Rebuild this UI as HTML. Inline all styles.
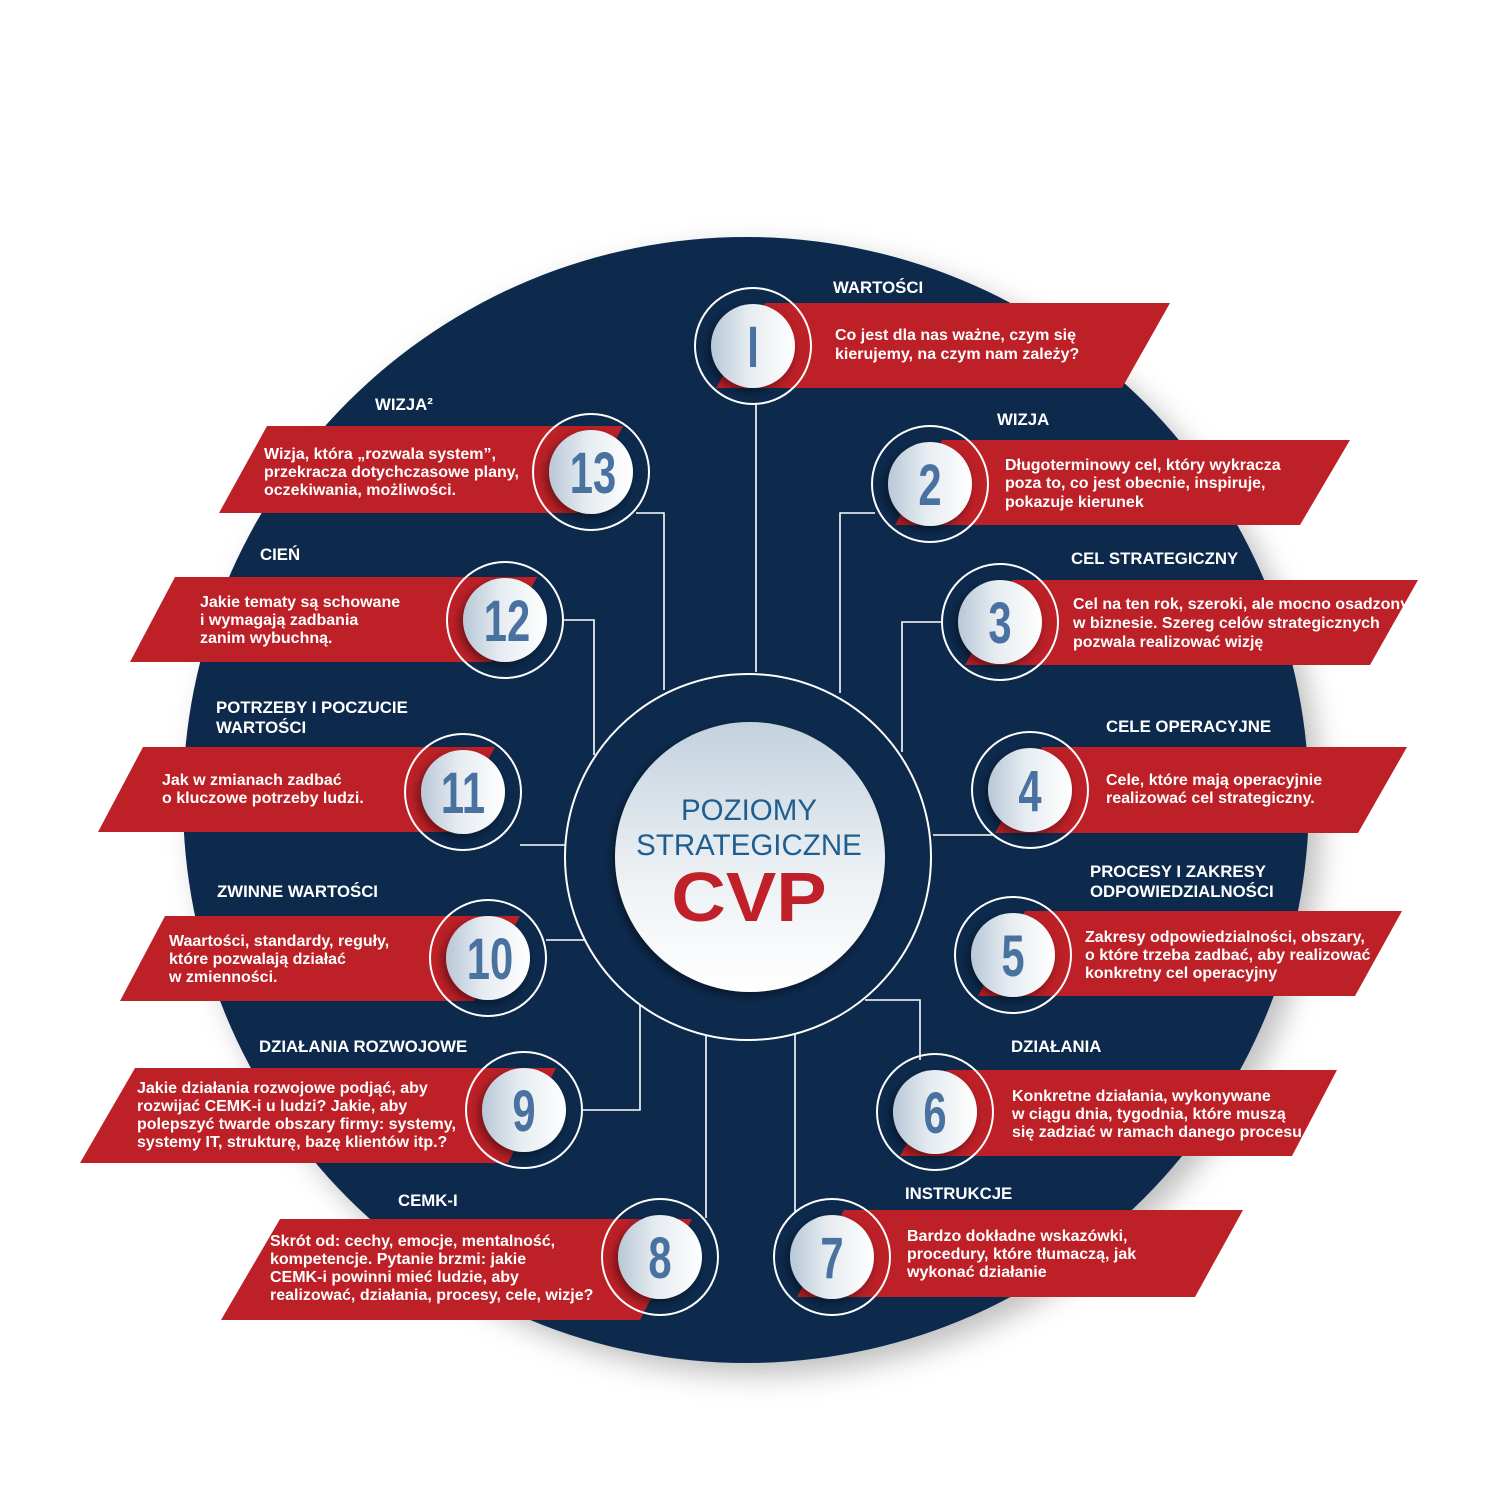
<!DOCTYPE html>
<html><head><meta charset="utf-8"><style>
html,body{margin:0;padding:0;background:#fff;}
svg{display:block;}
.t{font-family:"Liberation Sans",sans-serif;font-weight:bold;fill:#fff;font-size:16px;}
.h{font-family:"Liberation Sans",sans-serif;font-weight:bold;fill:#fff;font-size:16.8px;}
.n{font-family:"Liberation Sans Narrow","Liberation Sans",sans-serif;font-weight:bold;fill:#4a72a0;font-size:58px;}
</style></head><body>
<svg width="1500" height="1500" viewBox="0 0 1500 1500" xmlns="http://www.w3.org/2000/svg">
<defs>
<linearGradient id="dg" x1="0" y1="0" x2="1" y2="0"><stop offset="0" stop-color="#b8c8d7"/><stop offset="0.45" stop-color="#e6ecf1"/><stop offset="1" stop-color="#ffffff"/></linearGradient>
<linearGradient id="cg" x1="0" y1="0" x2="0" y2="1"><stop offset="0" stop-color="#c3d2de"/><stop offset="0.6" stop-color="#eef2f5"/><stop offset="1" stop-color="#ffffff"/></linearGradient>
<filter id="sh" x="-30%" y="-30%" width="160%" height="160%"><feDropShadow dx="-3" dy="4" stdDeviation="5" flood-color="#000" flood-opacity="0.45"/></filter>
<filter id="bs" x="-10%" y="-10%" width="120%" height="120%"><feDropShadow dx="12" dy="12" stdDeviation="14" flood-color="#000" flood-opacity="0.25"/></filter>
<clipPath id="c6"><polygon points="947,1070 1337,1070 1292,1156 900,1156"/></clipPath>
</defs>
<circle cx="746" cy="800" r="563" fill="#0b2a4e" filter="url(#bs)"/>

<g stroke="#fff" stroke-width="1.6" fill="none">
<polyline points="756,403 756,672"/>
<polyline points="636,513 664,513 664,690"/>
<polyline points="563,620 594,620 594,755"/>
<polyline points="520,845 566,845"/>
<polyline points="546,940 585,940"/>
<polyline points="581,1110 640,1110 640,1005"/>
<polyline points="706,1218 706,1035"/>
<polyline points="795,1212 795,1035"/>
<polyline points="920,1060 920,1000 865,1000"/>
<polyline points="933,835 993,835"/>
<polyline points="943,622 902,622 902,752"/>
<polyline points="875,513 840,513 840,693"/>
</g>

<g fill="#bd2027">
<polygon points="765,303 1170,303 1122,388 716,388"/>
<polygon points="942,440 1350,440 1300,525 895,525"/>
<polygon points="1012,580 1418,580 1370,665 965,665"/>
<polygon points="1042,747 1407,747 1358,833 995,833"/>
<polygon points="1025,911 1402,911 1355,996 978,996"/>
<polygon points="947,1070 1337,1070 1292,1156 900,1156"/>
<polygon points="844,1210 1243,1210 1195,1297 797,1297"/>
<polygon points="267,426 623,426 577,513 219,513"/>
<polygon points="175,577 537,577 491,662 130,662"/>
<polygon points="143,747 495,747 449,832 98,832"/>
<polygon points="165,916 520,916 474,1001 120,1001"/>
<polygon points="135,1068 556,1068 508,1163 80,1163"/>
<polygon points="280,1219 692,1219 640,1320 221,1320"/>
</g>

<circle cx="748" cy="857" r="183" fill="none" stroke="#fff" stroke-width="2"/>
<circle cx="750" cy="857" r="135" fill="url(#cg)" filter="url(#sh)"/>
<text x="749" y="820" text-anchor="middle" font-family="Liberation Sans,sans-serif" font-size="29.5" fill="#1f5e8e">POZIOMY</text>
<text x="749" y="855" text-anchor="middle" font-family="Liberation Sans,sans-serif" font-size="29.5" fill="#1f5e8e">STRATEGICZNE</text>
<text x="749" y="921" text-anchor="middle" font-family="Liberation Sans,sans-serif" font-weight="bold" font-size="70" fill="#c0202a" transform="translate(749,0) scale(1.08,1) translate(-749,0)">CVP</text>

<g>
<circle cx="753" cy="346" r="58" fill="none" stroke="#fff" stroke-width="2"/><circle cx="753" cy="346" r="42" fill="url(#dg)" filter="url(#sh)"/>
<circle cx="930" cy="484" r="58" fill="none" stroke="#fff" stroke-width="2"/><circle cx="930" cy="484" r="42" fill="url(#dg)" filter="url(#sh)"/>
<circle cx="1000" cy="622" r="58" fill="none" stroke="#fff" stroke-width="2"/><circle cx="1000" cy="622" r="42" fill="url(#dg)" filter="url(#sh)"/>
<circle cx="1030" cy="790" r="58" fill="none" stroke="#fff" stroke-width="2"/><circle cx="1030" cy="790" r="42" fill="url(#dg)" filter="url(#sh)"/>
<circle cx="1013" cy="955" r="58" fill="none" stroke="#fff" stroke-width="2"/><circle cx="1013" cy="955" r="42" fill="url(#dg)" filter="url(#sh)"/>
<circle cx="935" cy="1112" r="58" fill="none" stroke="#fff" stroke-width="2"/><circle cx="935" cy="1112" r="42" fill="url(#dg)" filter="url(#sh)"/>
<circle cx="832" cy="1257" r="58" fill="none" stroke="#fff" stroke-width="2"/><circle cx="832" cy="1257" r="42" fill="url(#dg)" filter="url(#sh)"/>
<circle cx="660" cy="1257" r="58" fill="none" stroke="#fff" stroke-width="2"/><circle cx="660" cy="1257" r="42" fill="url(#dg)" filter="url(#sh)"/>
<circle cx="524" cy="1110" r="58" fill="none" stroke="#fff" stroke-width="2"/><circle cx="524" cy="1110" r="42" fill="url(#dg)" filter="url(#sh)"/>
<circle cx="488" cy="958" r="58" fill="none" stroke="#fff" stroke-width="2"/><circle cx="488" cy="958" r="42" fill="url(#dg)" filter="url(#sh)"/>
<circle cx="463" cy="792" r="58" fill="none" stroke="#fff" stroke-width="2"/><circle cx="463" cy="792" r="42" fill="url(#dg)" filter="url(#sh)"/>
<circle cx="505" cy="620" r="58" fill="none" stroke="#fff" stroke-width="2"/><circle cx="505" cy="620" r="42" fill="url(#dg)" filter="url(#sh)"/>
<circle cx="591" cy="472" r="58" fill="none" stroke="#fff" stroke-width="2"/><circle cx="591" cy="472" r="42" fill="url(#dg)" filter="url(#sh)"/>
</g>

<g class="n" text-anchor="middle">
<text transform="translate(753,367) scale(0.72,1)">I</text>
<text transform="translate(930,505) scale(0.72,1)">2</text>
<text transform="translate(1000,643) scale(0.72,1)">3</text>
<text transform="translate(1030,811) scale(0.72,1)">4</text>
<text transform="translate(1013,976) scale(0.72,1)">5</text>
<text transform="translate(935,1133) scale(0.72,1)">6</text>
<text transform="translate(832,1278) scale(0.72,1)">7</text>
<text transform="translate(660,1278) scale(0.72,1)">8</text>
<text transform="translate(524,1131) scale(0.72,1)">9</text>
<text transform="translate(490,979) scale(0.72,1)">10</text>
<text transform="translate(463,813) scale(0.72,1)">11</text>
<text transform="translate(507,641) scale(0.72,1)">12</text>
<text transform="translate(593,493) scale(0.72,1)">13</text>
</g>

<g class="h">
<text x="833" y="293">WARTOŚCI</text>
<text x="997" y="425">WIZJA</text>
<text x="1071" y="564">CEL STRATEGICZNY</text>
<text x="1106" y="732">CELE OPERACYJNE</text>
<text x="1090" y="877">PROCESY I ZAKRESY</text>
<text x="1090" y="897">ODPOWIEDZIALNOŚCI</text>
<text x="1011" y="1052">DZIAŁANIA</text>
<text x="905" y="1199">INSTRUKCJE</text>
<text x="375" y="410">WIZJA²</text>
<text x="260" y="560">CIEŃ</text>
<text x="216" y="713">POTRZEBY I POCZUCIE</text>
<text x="216" y="733">WARTOŚCI</text>
<text x="217" y="897">ZWINNE WARTOŚCI</text>
<text x="259" y="1052">DZIAŁANIA ROZWOJOWE</text>
<text x="398" y="1206">CEMK-I</text>
</g>

<g class="t">
<text x="835" y="340">Co jest dla nas ważne, czym się</text>
<text x="835" y="359">kierujemy, na czym nam zależy?</text>
<text x="1005" y="470">Długoterminowy cel, który wykracza</text>
<text x="1005" y="488">poza to, co jest obecnie, inspiruje,</text>
<text x="1005" y="507">pokazuje kierunek</text>
<text x="1073" y="609">Cel na ten rok, szeroki, ale mocno osadzony</text>
<text x="1073" y="628">w biznesie. Szereg celów strategicznych</text>
<text x="1073" y="647">pozwala realizować wizję</text>
<text x="1106" y="785">Cele, które mają operacyjnie</text>
<text x="1106" y="803">realizować cel strategiczny.</text>
<text x="1085" y="942">Zakresy odpowiedzialności, obszary,</text>
<text x="1085" y="960">o które trzeba zadbać, aby realizować</text>
<text x="1085" y="978">konkretny cel operacyjny</text>
<g clip-path="url(#c6)">
<text x="1012" y="1101">Konkretne działania, wykonywane</text>
<text x="1012" y="1119">w ciągu dnia, tygodnia, które muszą</text>
<text x="1012" y="1137">się zadziać w ramach danego procesu</text>
</g>
<text x="907" y="1241">Bardzo dokładne wskazówki,</text>
<text x="907" y="1259"> procedury, które tłumaczą, jak</text>
<text x="907" y="1277">wykonać działanie</text>
<text x="264" y="459">Wizja, która „rozwala system”,</text>
<text x="264" y="477">przekracza dotychczasowe plany,</text>
<text x="264" y="495">oczekiwania, możliwości.</text>
<text x="200" y="607">Jakie tematy są schowane</text>
<text x="200" y="625">i wymagają zadbania</text>
<text x="200" y="643">zanim wybuchną.</text>
<text x="162" y="785">Jak w zmianach zadbać</text>
<text x="162" y="803">o kluczowe potrzeby ludzi.</text>
<text x="169" y="946">Waartości, standardy, reguły,</text>
<text x="169" y="964">które pozwalają działać</text>
<text x="169" y="982">w zmienności.</text>
<text x="137" y="1093">Jakie działania rozwojowe podjąć, aby</text>
<text x="137" y="1111">rozwijać CEMK-i u ludzi? Jakie, aby</text>
<text x="137" y="1129">polepszyć twarde obszary firmy: systemy,</text>
<text x="137" y="1147">systemy IT, strukturę, bazę klientów itp.?</text>
<text x="270" y="1246">Skrót od: cechy, emocje, mentalność,</text>
<text x="270" y="1264">kompetencje. Pytanie brzmi: jakie</text>
<text x="270" y="1282">CEMK-i powinni mieć ludzie, aby</text>
<text x="270" y="1300">realizować, działania, procesy, cele, wizje?</text>
</g>
</svg>
</body></html>
